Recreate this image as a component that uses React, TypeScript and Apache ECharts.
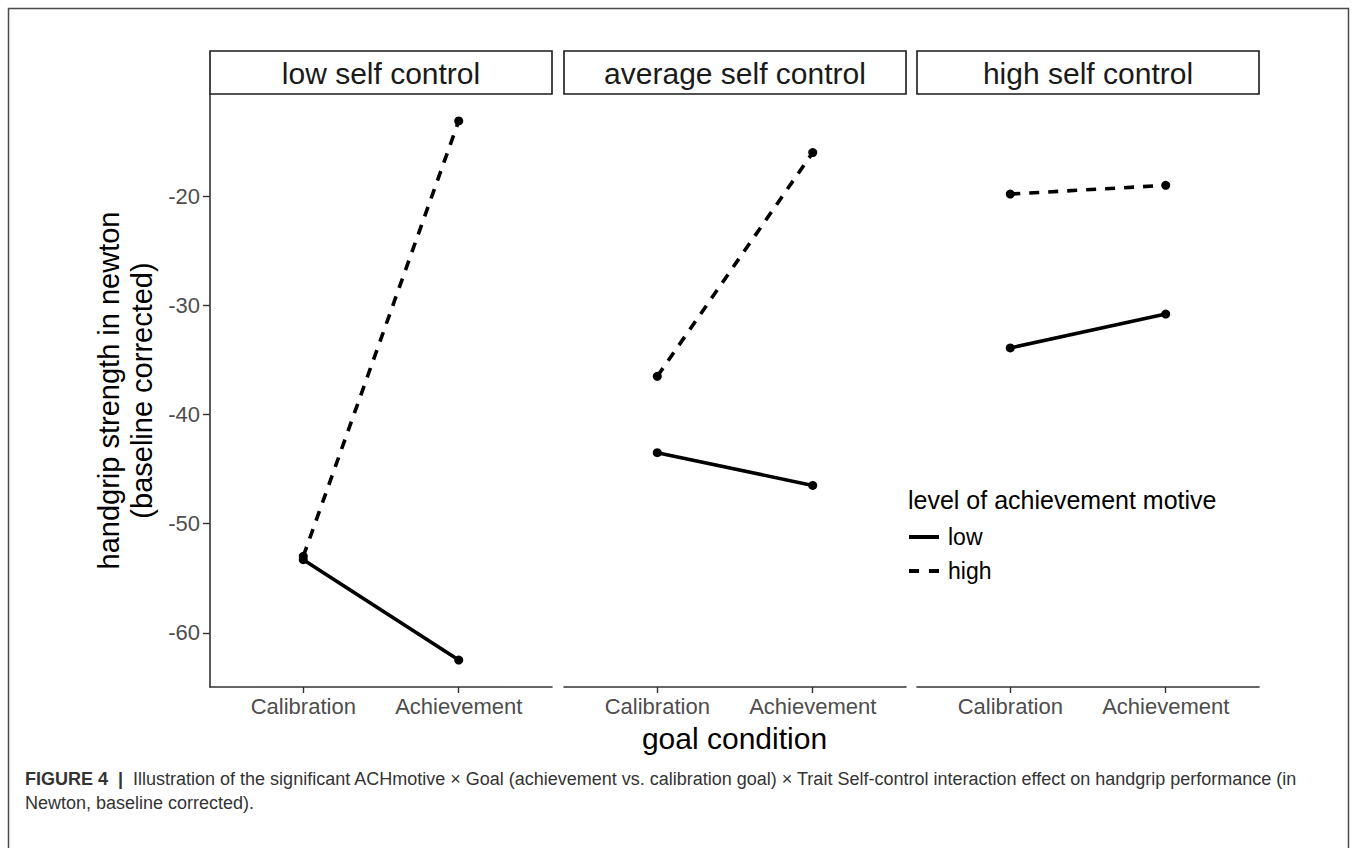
import React, { useEffect, useRef } from 'react';
import * as echarts from 'echarts';

// ---- data ----
const panels = ['low self control', 'average self control', 'high self control'];
const conditions = ['Calibration', 'Achievement'];
const motiveLevels = ['low', 'high'];
const yTicks = [-60, -50, -40, -30, -20];

// handgrip strength per goal condition [Calibration, Achievement]
const lowSCLowMotive = [-53.3, -62.5];
const lowSCHighMotive = [-53.0, -13.1];
const avgSCLowMotive = [-43.5, -46.5];
const avgSCHighMotive = [-36.5, -16.0];
const highSCLowMotive = [-33.9, -30.8];
const highSCHighMotive = [-19.8, -19.0];

const lowMotiveByPanel = [lowSCLowMotive, avgSCLowMotive, highSCLowMotive];
const highMotiveByPanel = [lowSCHighMotive, avgSCHighMotive, highSCHighMotive];

const FONT = 'Liberation Sans, Arial, Helvetica, sans-serif';

export default function App() {
  const ref = useRef<HTMLDivElement>(null);

  useEffect(() => {
    if (!ref.current) return;
    const chart = echarts.init(ref.current, null, { renderer: 'svg' });

    // layout
    const gridLefts = [210, 564, 917];
    const gridW = 342;
    const gridTop = 94;
    const gridH = 593;
    const stripTop = 51;
    const stripH = gridTop - stripTop;

    // ggplot-like 5% expansion of y range
    const all = [...lowMotiveByPanel.flat(), ...highMotiveByPanel.flat()];
    const dMin = Math.min(...all);
    const dMax = Math.max(...all);
    const pad = (dMax - dMin) * 0.05;
    const yMin = dMin - pad;
    const yMax = dMax + pad;

    const xPos = conditions.map((_, i) => i + 1);

    const grids = gridLefts.map((l) => ({ left: l, top: gridTop, width: gridW, height: gridH }));

    const xAxes = gridLefts.map((_, i) => ({
      type: 'value',
      gridIndex: i,
      min: 0.4,
      max: conditions.length + 0.6,
      splitLine: { show: false },
      axisLine: { show: true, lineStyle: { color: '#333', width: 1.6 } },
      axisTick: { show: true, customValues: xPos, length: 6, lineStyle: { color: '#333', width: 1.4 } },
      axisLabel: {
        show: true,
        customValues: xPos,
        formatter: (v: number) => conditions[Math.round(v) - 1] ?? '',
        color: '#4d4d4d',
        fontSize: 22,
        fontFamily: FONT,
        margin: 8,
      },
    }));

    const yAxes = gridLefts.map((_, i) => ({
      type: 'value',
      gridIndex: i,
      min: yMin,
      max: yMax,
      show: i === 0,
      splitLine: { show: false },
      axisLine: { show: true, lineStyle: { color: '#333', width: 1.6 } },
      axisTick: { show: true, customValues: yTicks, length: 7, lineStyle: { color: '#333', width: 1.4 } },
      axisLabel: {
        show: true,
        customValues: yTicks,
        color: '#4d4d4d',
        fontSize: 22,
        fontFamily: FONT,
        margin: 10,
      },
    }));

    const series: any[] = [];
    panels.forEach((_, i) => {
      series.push({
        type: 'line',
        name: motiveLevels[0],
        xAxisIndex: i,
        yAxisIndex: i,
        data: lowMotiveByPanel[i].map((v, k) => [xPos[k], v]),
        symbol: 'circle',
        symbolSize: 9,
        itemStyle: { color: '#000' },
        lineStyle: { color: '#000', width: 3.6, type: 'solid' },
      });
      series.push({
        type: 'line',
        name: motiveLevels[1],
        xAxisIndex: i,
        yAxisIndex: i,
        data: highMotiveByPanel[i].map((v, k) => [xPos[k], v]),
        symbol: 'circle',
        symbolSize: 9,
        itemStyle: { color: '#000' },
        lineStyle: { color: '#000', width: 3.6, type: [10, 9] },
      });
    });

    const graphic: any[] = [];
    // outer frame
    graphic.push({
      type: 'rect',
      shape: { x: 8.5, y: 8.5, width: 1340, height: 860 },
      style: { fill: 'none', stroke: '#4a4a4a', lineWidth: 1.5 },
      silent: true,
    });
    // strips
    panels.forEach((p, i) => {
      graphic.push({
        type: 'rect',
        shape: { x: gridLefts[i], y: stripTop, width: gridW, height: stripH },
        style: { fill: '#fff', stroke: '#1a1a1a', lineWidth: 1.6 },
        silent: true,
      });
      graphic.push({
        type: 'text',
        x: gridLefts[i] + gridW / 2,
        y: stripTop + stripH / 2 + 1,
        style: { text: p, fontSize: 30, fontFamily: FONT, fill: '#1a1a1a', align: 'center', verticalAlign: 'middle' },
        silent: true,
      });
    });
    // y axis title
    graphic.push({
      type: 'text',
      x: 125,
      y: gridTop + gridH / 2,
      rotation: Math.PI / 2,
      style: {
        text: 'handgrip strength in newton\n(baseline corrected)',
        fontSize: 29,
        lineHeight: 33,
        fontFamily: FONT,
        fill: '#000',
        align: 'center',
        verticalAlign: 'middle',
      },
      silent: true,
    });
    // x axis title
    graphic.push({
      type: 'text',
      x: (gridLefts[0] + gridLefts[2] + gridW) / 2,
      y: 738,
      style: { text: 'goal condition', fontSize: 30, fontFamily: FONT, fill: '#000', align: 'center', verticalAlign: 'middle' },
      silent: true,
    });
    // legend
    graphic.push({
      type: 'text',
      x: 908,
      y: 500,
      style: { text: 'level of achievement motive', fontSize: 25, fontFamily: FONT, fill: '#000', align: 'left', verticalAlign: 'middle' },
      silent: true,
    });
    const legendYs = [537, 571];
    motiveLevels.forEach((lv, k) => {
      graphic.push({
        type: 'line',
        shape: { x1: 909, y1: legendYs[k], x2: 939, y2: legendYs[k] },
        style: { stroke: '#000', lineWidth: 4, lineDash: k === 0 ? null : [10, 10] },
        silent: true,
      });
      graphic.push({
        type: 'text',
        x: 948,
        y: legendYs[k],
        style: { text: lv, fontSize: 23, fontFamily: FONT, fill: '#000', align: 'left', verticalAlign: 'middle' },
        silent: true,
      });
    });
    // caption
    graphic.push({
      type: 'text',
      x: 25,
      y: 767,
      style: {
        text:
          '{b|FIGURE 4}  {b||}  Illustration of the significant ACHmotive \u00d7 Goal (achievement vs. calibration goal) \u00d7 Trait Self-control interaction effect on handgrip performance (in\nNewton, baseline corrected).',
        fontSize: 18,
        lineHeight: 24,
        fontFamily: FONT,
        fill: '#333',
        align: 'left',
        verticalAlign: 'top',
        rich: {
          b: { fontSize: 18, fontWeight: 'bold', fontFamily: FONT, fill: '#333', lineHeight: 24 },
        },
      },
      silent: true,
    });

    chart.setOption({
      animation: false,
      backgroundColor: '#fff',
      grid: grids,
      xAxis: xAxes,
      yAxis: yAxes,
      series,
      graphic,
    });

    return () => chart.dispose();
  }, []);

  return (
    <div
      ref={ref}
      style={{ position: 'absolute', left: 0, top: 0, width: 1356, height: 848, background: '#fff' }}
    />
  );
}
